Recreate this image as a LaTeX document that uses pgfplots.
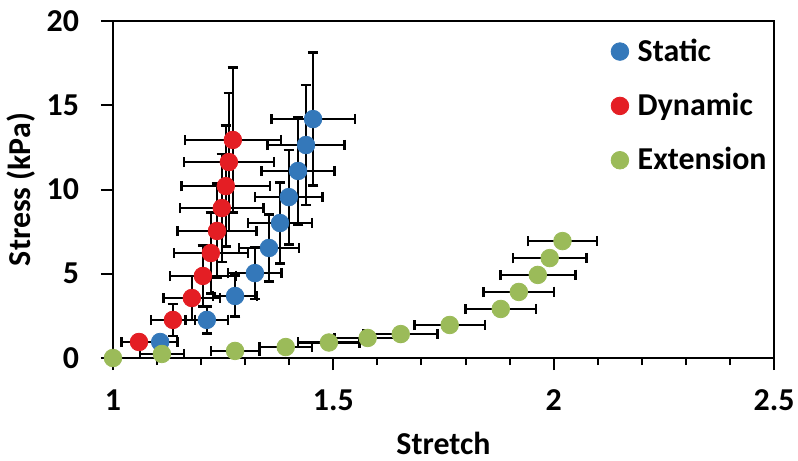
\documentclass[border=0pt]{standalone}
\usepackage{fontspec}
\setmainfont{Carlito}
\usepackage{pgfplots}
\usepackage{pgfplotstable}
\pgfplotsset{compat=1.18}
\definecolor{sblue}{RGB}{52,120,186}
\definecolor{dred}{RGB}{228,30,36}
\definecolor{egreen}{RGB}{155,187,89}

\pgfplotstableread{
x y ex ey
1.107 0.95 0.039 0.30
1.213 2.26 0.048 0.80
1.277 3.68 0.050 1.20
1.322 5.04 0.061 1.55
1.354 6.53 0.068 2.00
1.379 8.01 0.073 2.40
1.399 9.55 0.077 2.80
1.420 11.10 0.083 3.20
1.438 12.64 0.088 3.55
1.454 14.18 0.095 3.95
}\staticdata

\pgfplotstableread{
x y ex ey
1.059 0.95 0.040 0.40
1.136 2.26 0.050 0.95
1.179 3.56 0.064 1.30
1.204 4.87 0.075 1.80
1.222 6.23 0.084 2.40
1.236 7.54 0.090 2.80
1.247 8.90 0.095 3.20
1.256 10.20 0.100 3.60
1.263 11.63 0.102 4.10
1.272 12.94 0.109 4.30
}\dynamicdata

\pgfplotstableread{
x y ex
1.000 0.00 0.000
1.111 0.24 0.050
1.277 0.42 0.055
1.392 0.65 0.060
1.490 0.92 0.070
1.578 1.19 0.075
1.653 1.42 0.084
1.764 1.96 0.080
1.880 2.91 0.080
1.921 3.92 0.080
1.964 4.93 0.085
1.991 5.93 0.083
2.020 6.94 0.078
}\extdata

\begin{document}
\begin{tikzpicture}
\begin{axis}[
  scale only axis,
  width=330.5bp, height=168.5bp,
  xmin=1, xmax=2.5, ymin=0, ymax=20,
  xtick={1,1.5,2,2.5}, xticklabels={1,1.5,2,2.5},
  ytick={0,5,10,15,20}, yticklabels={0,5,10,15,20},
  minor x tick num=4,
  tick pos=left, tick align=outside,
  major tick length=6bp, minor tick length=3.5bp,
  every tick/.style={black, line width=1bp},
  axis line style={line width=1.1bp},
  tick label style={font=\fontsize{16}{18}\selectfont\bfseries},
  xticklabel style={yshift=-6.5bp},
  yticklabel style={xshift=-7.5bp},
  xlabel={Stretch}, ylabel={Stress (kPa)},
  label style={font=\fontsize{16}{18}\selectfont\bfseries},
  xlabel style={yshift=-3.5bp},
  ylabel style={yshift=-1bp},
  legend style={draw=none, fill=none, at={(0.753,0.96)}, anchor=north west,
    font=\fontsize{16}{18}\selectfont\bfseries, row sep=10.5bp,
    column sep=2.5bp, inner sep=0pt},
  legend cell align=left,
]
\addplot[only marks, mark=*, mark size=4.4bp, sblue,
  error bars/.cd, x dir=both, x explicit, y dir=both, y explicit,
  error bar style={line width=1.3bp, black},
  error mark options={rotate=90, black, line width=1.3bp, mark size=2.6bp}]
  table[x=x, y=y, x error=ex, y error=ey] {\staticdata};
\addlegendentry{Static}
\addplot[only marks, mark=*, mark size=4.4bp, dred,
  error bars/.cd, x dir=both, x explicit, y dir=both, y explicit,
  error bar style={line width=1.3bp, black},
  error mark options={rotate=90, black, line width=1.3bp, mark size=2.6bp}]
  table[x=x, y=y, x error=ex, y error=ey] {\dynamicdata};
\addlegendentry{Dynamic}
\addplot[only marks, mark=*, mark size=4.4bp, egreen,
  error bars/.cd, x dir=both, x explicit,
  error bar style={line width=1.3bp, black},
  error mark options={rotate=90, black, line width=1.3bp, mark size=2.6bp}]
  table[x=x, y=y, x error=ex] {\extdata};
\addlegendentry{Extension}
\coordinate (sw) at (rel axis cs:0,0);
\coordinate (ne) at (rel axis cs:1,1);
\end{axis}
\pgfresetboundingbox
\path[use as bounding box] ([shift={(-56.5bp,-51.5bp)}]sw) rectangle ([shift={(12bp,10.5bp)}]ne);
\end{tikzpicture}
\end{document}
